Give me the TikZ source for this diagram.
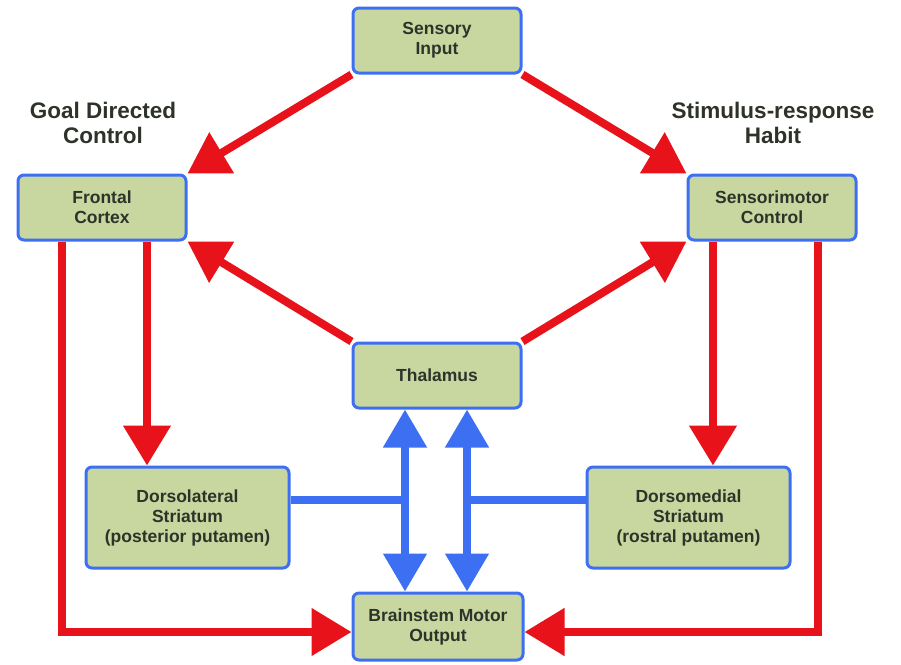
\documentclass[tikz,border=0pt]{standalone}
\usepackage{fontspec}
\setmainfont{Liberation Sans}
\usetikzlibrary{arrows.meta}
\definecolor{boxfill}{HTML}{C8D6A0}
\definecolor{boxline}{HTML}{3D6FF2}
\definecolor{redline}{HTML}{E8121A}
\definecolor{blueline}{HTML}{3D6FF2}
\definecolor{txt}{HTML}{2E332A}
\begin{document}
\begin{tikzpicture}[x=1pt,y=-1pt,
  region/.style={draw=boxline, line width=3pt, fill=boxfill, rounded corners=6pt,
    inner sep=0pt, align=center, text=txt,
    font=\fontsize{17.5}{20}\selectfont\bfseries},
  heading/.style={align=center, text=txt, font=\fontsize{22.5}{25}\selectfont\bfseries},
  redarrow/.style={draw=redline, line width=8pt,
    -{Triangle[length=40pt,width=46pt]}, color=redline},
  blueline/.style={draw=blueline, line width=8pt},
  bluearrow/.style={draw=blueline, line width=8pt, color=blueline,
    {Triangle[length=38pt,width=42pt]}-{Triangle[length=38pt,width=42pt]}}]
\useasboundingbox (0,0) rectangle (901,664);

% boxes
\node[region, minimum width=168pt, minimum height=65pt] (sens) at (437,40.5) {Sensory\\Input};
\node[region, minimum width=168pt, minimum height=65pt] (front) at (102,207.5) {Frontal\\Cortex};
\node[region, minimum width=168pt, minimum height=65pt] (smc) at (772,207.5) {Sensorimotor\\Control};
\node[region, minimum width=168pt, minimum height=65pt] (thal) at (437,375.5) {Thalamus};
\node[region, minimum width=203pt, minimum height=101pt] (dls) at (187.5,517.5) {Dorsolateral\\Striatum\\(posterior putamen)};
\node[region, minimum width=203pt, minimum height=101pt] (dms) at (688.5,517.5) {Dorsomedial\\Striatum\\(rostral putamen)};
\node[region, minimum width=170pt, minimum height=67pt] (brain) at (438,626.5) {Brainstem Motor\\Output};

% headings
\node[heading] (goal) at (103,123) {Goal Directed\\Control};
\node[heading] (habit) at (773,123) {Stimulus-response\\Habit};

% cortical pathways
\draw[redarrow] (sens.south west) -- (front.north east);
\draw[redarrow] (sens.south east) -- (smc.north west);
\draw[redarrow] (thal.north west) -- (front.south east);
\draw[redarrow] (thal.north east) -- (smc.south west);
\draw[redarrow] (front.south -| dls.north) ++(-40.5,0) coordinate (fa) -- (fa |- dls.north);
\draw[redarrow] (smc.south -| dms.north) ++(24.5,0) coordinate (sa) -- (sa |- dms.north);

% direct motor pathways
\coordinate (fl) at (62,632);
\coordinate (sr) at (818,632);
\draw[redarrow] (fl |- front.south) -- (fl) -- (brain.west |- fl);
\draw[redarrow] (sr |- smc.south) -- (sr) -- (brain.east |- sr);

% thalamus - brainstem loops
\coordinate (bl) at (405,0);
\coordinate (br) at (467,0);
\draw[blueline] (dls.east |- 0,500) -- (bl |- 0,500);
\draw[blueline] (dms.west |- 0,500) -- (br |- 0,500);
\draw[bluearrow] (bl |- thal.south) -- (bl |- brain.north);
\draw[bluearrow] (br |- thal.south) -- (br |- brain.north);
\end{tikzpicture}
\end{document}
